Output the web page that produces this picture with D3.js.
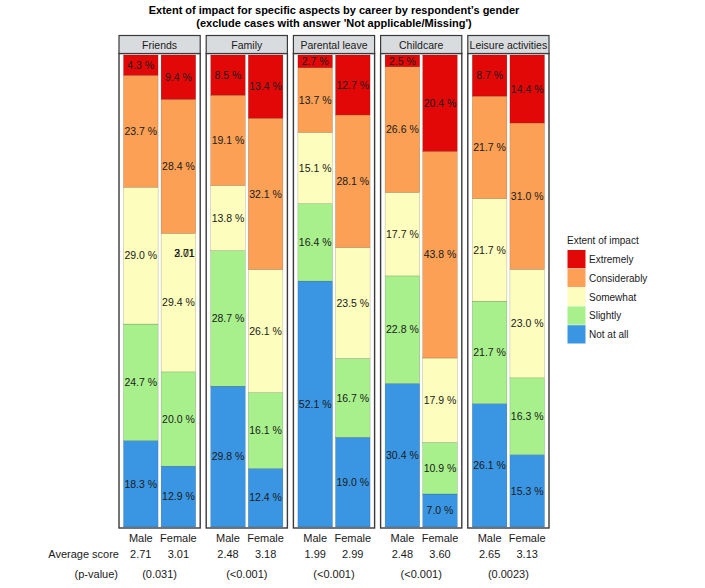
<!DOCTYPE html>
<html><head><meta charset="utf-8">
<script src="https://cdn.jsdelivr.net/npm/d3@7"></script>
<style>body{margin:0;background:#fff;font-family:"Liberation Sans",Arial,sans-serif;}</style>
</head><body>
<script>
const aspects = ["Friends","Family","Parental leave","Childcare","Leisure activities"];
const genders = ["Male","Female"];
const levels = ["Not at all","Slightly","Somewhat","Considerably","Extremely"];
const levelColors = ["#3a96e3","#a8f08c","#fdfdbd","#fca056","#e30808"];
// values per aspect, gender: [Extremely, Considerably, Somewhat, Slightly, Not at all]
const maleValues = [
  [4.3,23.7,29.0,24.7,18.3],
  [8.5,19.1,13.8,28.7,29.8],
  [2.7,13.7,15.1,16.4,52.1],
  [2.5,26.6,17.7,22.8,30.4],
  [8.7,21.7,21.7,21.7,26.1]
];
const femaleValues = [
  [9.4,28.4,29.4,20.0,12.9],
  [13.4,32.1,26.1,16.1,12.4],
  [12.7,28.1,23.5,16.7,19.0],
  [20.4,43.8,17.9,10.9,7.0],
  [14.4,31.0,23.0,16.3,15.3]
];
const avgMale = ["2.71","2.48","1.99","2.48","2.65"];
const avgFemale = ["3.01","3.18","2.99","3.60","3.13"];
const pValues = ["(0.031)","(<0.001)","(<0.001)","(<0.001)","(0.0023)"];
const legendOrder = ["Extremely","Considerably","Somewhat","Slightly","Not at all"];

const W = 705, H = 588;
const svg = d3.select("body").append("svg").attr("width", W).attr("height", H);

svg.append("text").attr("x", 334).attr("y", 14).attr("text-anchor","middle")
  .style("font-size","11px").style("font-weight","bold").text("Extent of impact for specific aspects by career by respondent\u2019s gender");
svg.append("text").attr("x", 334).attr("y", 27).attr("text-anchor","middle")
  .style("font-size","11px").style("font-weight","bold").text("(exclude cases with answer 'Not applicable/Missing')");

const color = d3.scaleOrdinal().domain(levels).range(levelColors);
const panelX = d3.scaleBand().domain(aspects).range([119, 549]).paddingInner(0.0688).paddingOuter(0);
const y = d3.scaleLinear().domain([0,1]).range([527, 55]);

// build rows
const rows = [];
aspects.forEach((a,i)=>{
  genders.forEach(g=>{
    const v = g==="Male" ? maleValues[i] : femaleValues[i];
    const r = {aspect:a, gender:g};
    legendOrder.forEach((l,k)=> r[l] = v[k]);
    rows.push(r);
  });
});
const stack = d3.stack().keys(levels).offset(d3.stackOffsetExpand);

aspects.forEach((a,i)=>{
  const px = panelX(a), pw = panelX.bandwidth();
  const g = svg.append("g");
  const bx = d3.scaleBand().domain(genders).range([px+4.5, px+pw-4.5]).paddingInner(0.08);
  const pr = rows.filter(r=>r.aspect===a);
  const series = stack(pr);
  series.forEach(s=>{
    s.forEach((d,j)=>{
      const gender = pr[j].gender;
      g.append("rect").attr("x", bx(gender)).attr("width", bx.bandwidth())
        .attr("y", y(d[1])).attr("height", y(d[0]) - y(d[1]))
        .attr("fill", color(s.key)).attr("stroke","rgba(0,0,0,0.35)").attr("stroke-width",0.4);
      const val = pr[j][s.key];
      g.append("text").attr("x", bx(gender)+bx.bandwidth()/2).attr("y", (y(d[0])+y(d[1]))/2 + 3.7)
        .attr("text-anchor","middle").style("font-size","10.5px").attr("fill","#1a1a1a")
        .text(val.toFixed(1) + " %");
    });
  });
  // panel frame
  g.append("rect").attr("x", px).attr("y", 53.5).attr("width", pw).attr("height", 474.5)
    .attr("fill","none").attr("stroke","#3a3a3a").attr("stroke-width",1.4);
  // strip
  g.append("rect").attr("x", px).attr("y", 35.5).attr("width", pw).attr("height", 18)
    .attr("fill","#d9dcde").attr("stroke","#3a3a3a").attr("stroke-width",1.2);
  g.append("text").attr("x", px+pw/2).attr("y", 48.5).attr("text-anchor","middle")
    .style("font-size","10.5px").attr("fill","#1a1a1a").text(a);
  // bottom labels
  genders.forEach((gd,k)=>{
    const cx = bx(gd)+bx.bandwidth()/2;
    g.append("text").attr("x", cx).attr("y", 541.5).attr("text-anchor","middle")
      .style("font-size","11px").attr("fill","#1a1a1a").text(gd);
    g.append("text").attr("x", cx).attr("y", 557.5).attr("text-anchor","middle")
      .style("font-size","11px").attr("fill","#1a1a1a").text(k===0?avgMale[i]:avgFemale[i]);
  });
  g.append("text").attr("x", px+pw/2).attr("y", 577.5).attr("text-anchor","middle")
    .style("font-size","11px").attr("fill","#1a1a1a").text(pValues[i]);
  if (i===0) {
    // overlapping average score artefact in the reference
    const fx = bx("Female")+bx.bandwidth()/2 + 6;
    g.append("text").attr("x", fx).attr("y", 257).attr("text-anchor","middle")
      .style("font-size","10.5px").attr("fill","#1a1a1a").text(avgMale[0]);
    g.append("text").attr("x", fx).attr("y", 257).attr("text-anchor","middle")
      .style("font-size","10.5px").attr("fill","#1a1a1a").text(avgFemale[0]);
  }
});

svg.append("text").attr("x", 119).attr("y", 557.5).attr("text-anchor","end")
  .style("font-size","11px").attr("fill","#1a1a1a").text("Average score");
svg.append("text").attr("x", 118).attr("y", 577.5).attr("text-anchor","end")
  .style("font-size","11px").attr("fill","#1a1a1a").text("(p-value)");

// legend
const lg = svg.append("g").attr("transform","translate(567,0)");
lg.append("text").attr("x",0).attr("y",244).style("font-size","10px").attr("fill","#1a1a1a").text("Extent of impact");
legendOrder.forEach((l,k)=>{
  lg.append("rect").attr("x",0.5).attr("y",250+k*18.8).attr("width",18).attr("height",18.3).attr("fill",color(l));
  lg.append("text").attr("x",22).attr("y",250+k*18.8+13).style("font-size","10px").attr("fill","#1a1a1a").text(l);
});
</script>
</body></html>
